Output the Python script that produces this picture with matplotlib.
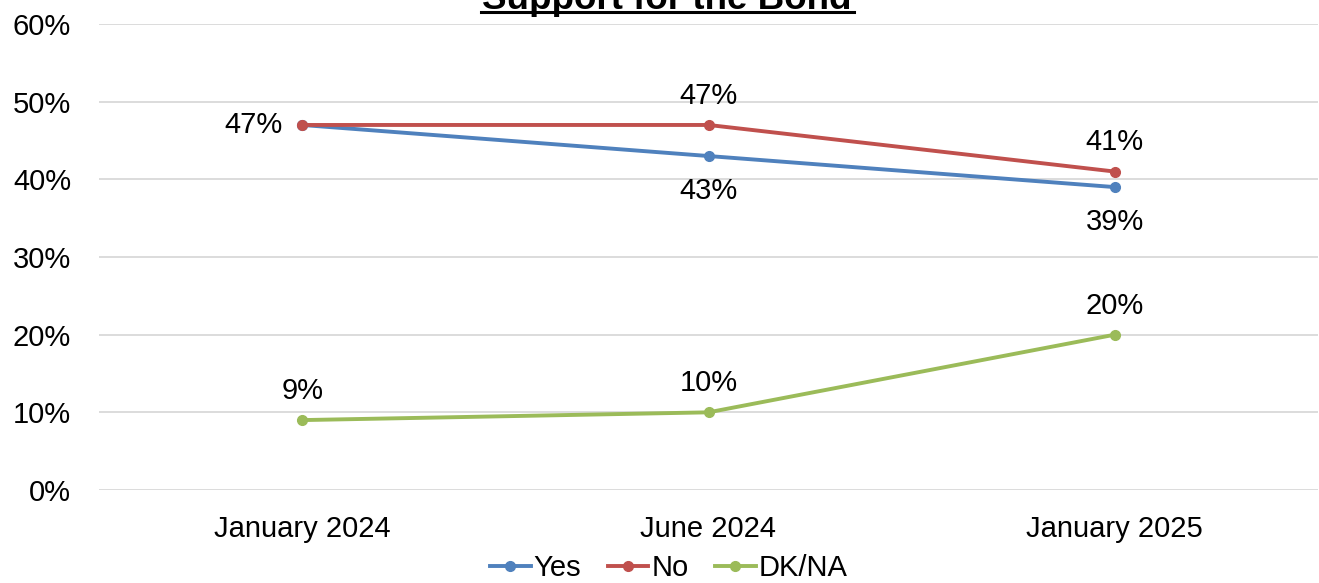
import matplotlib.pyplot as plt
from matplotlib.ticker import FuncFormatter

plt.rcParams["font.family"] = ["Liberation Sans", "DejaVu Sans"]

periods = ["January 2024", "June 2024", "January 2025"]
yes = [47, 43, 39]
no = [47, 47, 41]
dkna = [9, 10, 20]

colors = {"Yes": "#4F81BD", "No": "#C0504D", "DK/NA": "#9BBB59"}

fig = plt.figure(figsize=(13.19, 5.83), dpi=100)
ax = fig.add_axes([99 / 1319, 1 - 490 / 583, (1318 - 99) / 1319, (490 - 24) / 583])

x = range(len(periods))
for name, vals in [("Yes", yes), ("No", no), ("DK/NA", dkna)]:
    ax.plot(x, vals, color=colors[name], lw=2.8, marker="o", ms=7, label=name)

fs = 21
# data labels (offsets in points)
def lab(xi, v, dx, dy, ha="center"):
    ax.annotate(f"{v}%", (xi, v), xytext=(dx, dy), textcoords="offset points",
                ha=ha, va="center", fontsize=fs)

lab(0, no[0], -14, 0, ha="right")
lab(1, no[1], 0, 21)
lab(2, no[2], 0, 21)
lab(1, yes[1], 0, -25)
lab(2, yes[2], 0, -25)
for i, v in enumerate(dkna):
    lab(i, v, 0, 21)

ax.set_xlim(-0.5, 2.5)
ax.set_ylim(0, 60)
ax.set_yticks(range(0, 61, 10))
ax.yaxis.set_major_formatter(FuncFormatter(lambda v, p: f"{v:.0f}%"))
ax.set_xticks(list(x))
ax.set_xticklabels(periods)
ax.tick_params(length=0, labelsize=fs)
ax.tick_params(axis="y", pad=20)
ax.tick_params(axis="x", pad=18)
ax.grid(axis="y", color="#D9D9D9", lw=1.3)
ax.set_axisbelow(True)
for s in ax.spines.values():
    s.set_visible(False)

leg = fig.legend(loc="center", bbox_to_anchor=(0.507, 1 - 568 / 583), ncol=3,
                 frameon=False, fontsize=fs, handlelength=1.4, handletextpad=0.1,
                 columnspacing=0.9)

fig.text(667 / 1319, 1 - 9 / 583, "Support for the Bond", ha="center", va="baseline",
         fontsize=26.5, fontweight="bold")
# underline for the title
fig.add_artist(plt.Line2D([481 / 1319, 854 / 1319], [1 - 12 / 583, 1 - 12 / 583],
                          color="black", lw=2.2))

fig.savefig("out.png", dpi=100)
